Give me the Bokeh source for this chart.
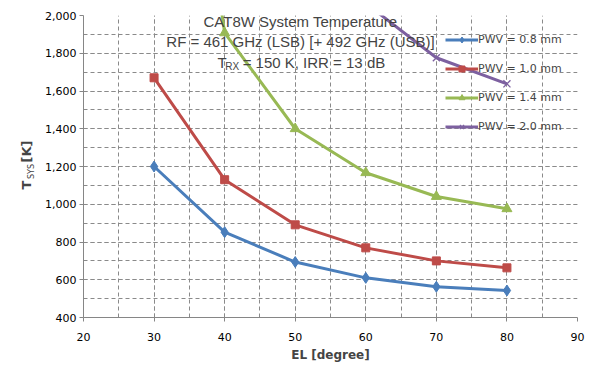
from bokeh.plotting import figure
from bokeh.models import Range1d, SingleIntervalTicker, NumeralTickFormatter, Label, Legend
from bokeh.embed import file_html
from bokeh.resources import INLINE
import math

el = [30, 40, 50, 60, 70, 80]
pwv08 = [1200, 852, 694, 610, 563, 543]
pwv10 = [1670, 1130, 891, 769, 700, 663]
el14 = [30, 40, 50, 60, 70, 80]
pwv14 = [4500, 1908, 1400, 1167, 1041, 976]
el20 = [60, 70, 80]
pwv20 = [2065, 1776, 1638]
labels = ["PWV = 0.8 mm", "PWV = 1.0 mm", "PWV = 1.4 mm", "PWV = 2.0 mm"]

p = figure(width=593, height=373, output_backend="svg", toolbar_location=None,
           x_range=Range1d(20, 90), y_range=Range1d(400, 2000),
           min_border_left=83, min_border_right=16, min_border_top=15, min_border_bottom=56)
p.outline_line_color = None
p.background_fill_color = "white"
p.border_fill_color = "white"

p.xaxis.ticker = SingleIntervalTicker(interval=10, num_minor_ticks=2)
p.yaxis.ticker = SingleIntervalTicker(interval=200, num_minor_ticks=2)
p.yaxis.formatter = NumeralTickFormatter(format="0,0")
for ax in (p.xaxis, p.yaxis):
    ax.axis_line_color = "#868686"
    ax.major_tick_line_color = "#868686"
    ax.minor_tick_line_color = None
    ax.major_tick_out = 4
    ax.major_tick_in = 0
    ax.major_label_text_font = "DejaVu Sans"
    ax.major_label_text_font_size = "11px"
    ax.major_label_text_color = "black"
p.yaxis.major_label_standoff = 3
p.xaxis.major_label_standoff = 11
p.xaxis.axis_label = "EL [degree]"
p.xaxis.axis_label_text_font = "DejaVu Sans"
p.xaxis.axis_label_text_font_style = "bold"
p.xaxis.axis_label_text_font_size = "12px"
p.xaxis.axis_label_standoff = 4

for g in (p.xgrid, p.ygrid):
    g.grid_line_color = "#8a8a8a"
    g.grid_line_dash = "4 3"
    g.minor_grid_line_color = "#8a8a8a"
    g.minor_grid_line_dash = "4 3"

blue, red, green, purple = "#4A7EBB", "#BE4B48", "#98B954", "#7D60A0"

r1 = p.line(el, pwv08, line_color=blue, line_width=3)
m1 = p.scatter(el, pwv08, marker="diamond", size=11, fill_color=blue, line_color=blue)
r2 = p.line(el, pwv10, line_color=red, line_width=3)
m2 = p.scatter(el, pwv10, marker="square", size=8, fill_color=red, line_color=red)
r3 = p.line(el14, pwv14, line_color=green, line_width=3)
m3 = p.scatter(el14, pwv14, marker="triangle", size=10, fill_color=green, line_color=green)
r4 = p.line(el20, pwv20, line_color=purple, line_width=3)
m4 = p.scatter(el20, pwv20, marker="x", size=10, line_color=purple, line_width=1.3)

legend = Legend(items=[(labels[0], [r1, m1]), (labels[1], [r2, m2]),
                       (labels[2], [r3, m3]), (labels[3], [r4, m4])],
                location=(362, 183), orientation="vertical")
legend.background_fill_alpha = 0
legend.border_line_color = None
legend.padding = 0
legend.margin = 0
legend.spacing = 14
legend.glyph_width = 33
legend.glyph_height = 15
legend.label_height = 15
legend.label_standoff = 0
legend.label_text_font = "DejaVu Sans"
legend.label_text_font_size = "11px"
p.add_layout(legend, "center")

tfont = "Liberation Sans"
p.add_layout(Label(x=50.75, y=1968, text="CAT8W System Temperature", text_align="center",
                   text_baseline="middle", text_font=tfont, text_font_size="15px"))
p.add_layout(Label(x=50.75, y=1862, text="RF = 461 GHz (LSB) [+ 492 GHz (USB)]", text_align="center",
                   text_baseline="middle", text_font=tfont, text_font_size="15px"))
p.add_layout(Label(x=38.99, y=1751, text="T", text_align="left",
                   text_baseline="middle", text_font=tfont, text_font_size="15px"))
p.add_layout(Label(x=40.1, y=1728, text="RX", text_align="left",
                   text_baseline="middle", text_font=tfont, text_font_size="10px"))
p.add_layout(Label(x=42.55, y=1751, text="= 150 K, IRR = 13 dB", text_align="left",
                   text_baseline="middle", text_font=tfont, text_font_size="15px"))

# rotated y-axis label, placed in the left side panel (canvas units)
p.add_layout(Label(x=25.5, y=189, x_units="canvas", y_units="canvas",
                   text="T\u00a0\u00a0\u00a0\u00a0[K]",
                   angle=math.pi / 2, text_align="left", text_baseline="middle",
                   text_font="DejaVu Sans", text_font_size="13px", text_font_style="bold"), "left")
p.add_layout(Label(x=31, y=178.5, x_units="canvas", y_units="canvas", text="SYS",
                   angle=math.pi / 2, text_align="left", text_baseline="middle",
                   text_font="DejaVu Sans", text_font_size="8px"), "left")

open("out.html", "w").write(file_html(p, INLINE))
